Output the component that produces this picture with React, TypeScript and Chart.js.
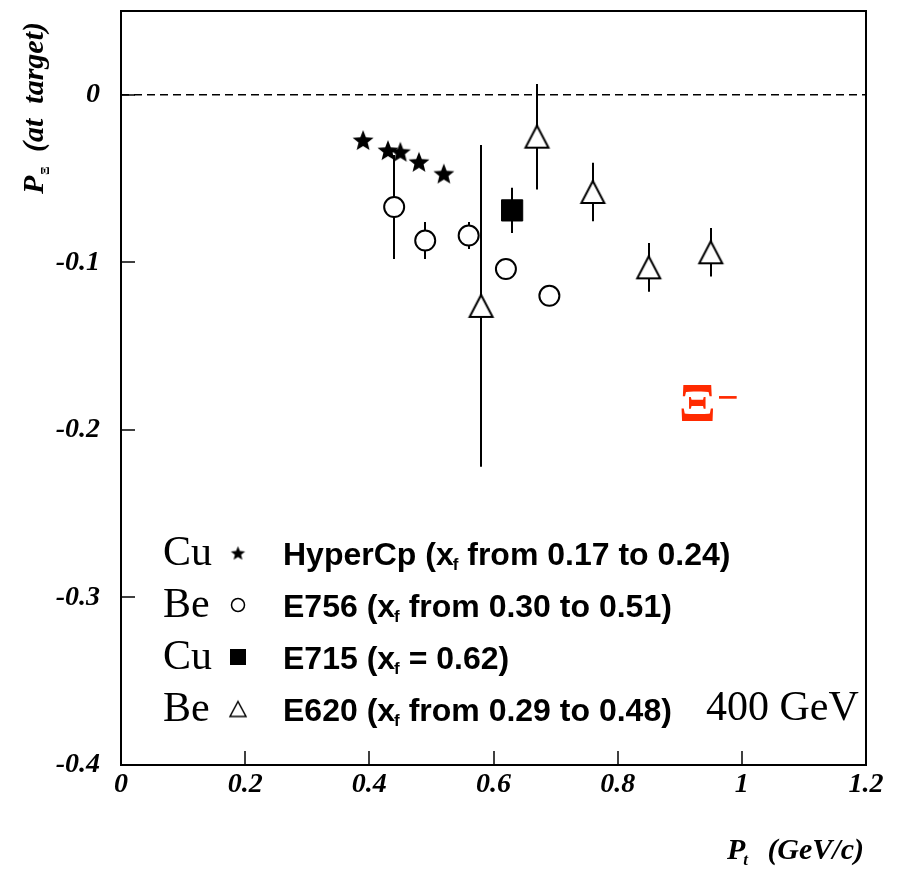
import React, { useEffect, useRef } from 'react';
import { Chart, registerables } from 'chart.js';

Chart.register(...registerables);

// ---- data ----
const starX = [0.39, 0.43, 0.45, 0.48, 0.52];
const starY = [-0.027, -0.033, -0.034, -0.040, -0.047];

const circleX = [0.44, 0.49, 0.56, 0.62, 0.69];
const circleY = [-0.067, -0.087, -0.084, -0.104, -0.120];
const circleErr = [0.031, 0.011, 0.008, 0.005, 0.005];

const squareX = [0.63];
const squareY = [-0.069];
const squareErr = [0.0135];

const triX = [0.58, 0.67, 0.76, 0.85, 0.95];
const triY = [-0.126, -0.025, -0.058, -0.103, -0.094];
const triErr = [0.096, 0.0315, 0.0175, 0.0145, 0.0145];

const xTicks = [0, 0.2, 0.4, 0.6, 0.8, 1, 1.2];
const xTickLabels = ['0', '0.2', '0.4', '0.6', '0.8', '1', '1.2'];
const yTicks = [-0.4, -0.3, -0.2, -0.1, 0];
const yTickLabels = ['-0.4', '-0.3', '-0.2', '-0.1', '0'];

const legendTargets = ['Cu', 'Be', 'Cu', 'Be'];
const legendNames = ['HyperCp', 'E756', 'E715', 'E620'];
const legendRanges = ['from 0.17 to 0.24', 'from 0.30 to 0.51', '= 0.62', 'from 0.29 to 0.48'];
const beamLabel = '400 GeV';
const particleLabel = 'Ξ';
const particleCharge = '−';
const xTitleMain = 'P';
const xTitleSub = 't';
const xTitleUnit = '(GeV/c)';
const yTitleMain = 'P';
const yTitleSub = 'Ξ';
const yTitleRest = '(at  target)';

// ---- marker images ----
function makeStar(R: number, r: number): HTMLCanvasElement {
  const size = Math.ceil(2 * R + 2);
  const c = document.createElement('canvas');
  c.width = size;
  c.height = size;
  const g = c.getContext('2d')!;
  const cx = size / 2;
  const cy = size / 2 + R * 0.1;
  g.beginPath();
  for (let i = 0; i < 10; i++) {
    const rad = i % 2 === 0 ? R : r;
    const a = -Math.PI / 2 + (i * Math.PI) / 5;
    const px = cx + rad * Math.cos(a);
    const py = cy + rad * Math.sin(a);
    if (i === 0) g.moveTo(px, py);
    else g.lineTo(px, py);
  }
  g.closePath();
  g.fillStyle = '#000';
  g.fill();
  return c;
}

function makeTriangle(w: number, h: number, lw: number): HTMLCanvasElement {
  const pad = Math.ceil(lw) + 1;
  const c = document.createElement('canvas');
  c.width = Math.ceil(w + 2 * pad);
  c.height = Math.ceil(h + 2 * pad);
  const g = c.getContext('2d')!;
  const cx = c.width / 2;
  const cy = c.height / 2;
  g.beginPath();
  g.moveTo(cx, cy - h / 2);
  g.lineTo(cx + w / 2, cy + h / 2);
  g.lineTo(cx - w / 2, cy + h / 2);
  g.closePath();
  g.fillStyle = '#fff';
  g.fill();
  g.lineWidth = lw;
  g.strokeStyle = '#000';
  g.lineJoin = 'miter';
  g.stroke();
  return c;
}

const SERIF = '"Liberation Serif", "Times New Roman", serif';
const SANS = '"Liberation Sans", Arial, sans-serif';

const decorPlugin = {
  id: 'decor',
  beforeDatasetsDraw(chart: any) {
    const { ctx, chartArea: a, scales } = chart;
    const x = scales.x;
    const y = scales.y;
    ctx.save();
    // dashed zero line
    const y0 = y.getPixelForValue(0);
    ctx.strokeStyle = '#000';
    ctx.lineWidth = 1.5;
    ctx.setLineDash([8, 5]);
    ctx.beginPath();
    ctx.moveTo(a.left, y0);
    ctx.lineTo(a.right, y0);
    ctx.stroke();
    ctx.setLineDash([]);
    // error bars
    ctx.lineWidth = 2;
    chart.data.datasets.forEach((ds: any) => {
      const errs = ds.errors as number[] | undefined;
      if (!errs) return;
      ds.data.forEach((p: any, i: number) => {
        const px = Math.round(x.getPixelForValue(p.x));
        ctx.beginPath();
        ctx.moveTo(px, y.getPixelForValue(p.y + errs[i]));
        ctx.lineTo(px, y.getPixelForValue(p.y - errs[i]));
        ctx.stroke();
      });
    });
    ctx.restore();
  },
  afterDraw(chart: any) {
    const { ctx, chartArea: a, scales } = chart;
    const x = scales.x;
    const y = scales.y;
    ctx.save();
    ctx.strokeStyle = '#000';
    ctx.fillStyle = '#000';
    // frame
    ctx.lineWidth = 2;
    ctx.strokeRect(a.left, a.top, a.right - a.left, a.bottom - a.top);
    // inward ticks
    const tl = 14;
    ctx.lineWidth = 1.5;
    xTicks.forEach((v) => {
      const px = Math.round(x.getPixelForValue(v));
      ctx.beginPath();
      ctx.moveTo(px, a.bottom);
      ctx.lineTo(px, a.bottom - tl);
      ctx.stroke();
    });
    yTicks.forEach((v) => {
      const py = Math.round(y.getPixelForValue(v));
      ctx.beginPath();
      ctx.moveTo(a.left, py);
      ctx.lineTo(a.left + tl, py);
      ctx.stroke();
    });

    // x title
    ctx.textBaseline = 'alphabetic';
    ctx.textAlign = 'left';
    ctx.font = `italic bold 30px ${SERIF}`;
    ctx.fillText(xTitleMain, 727, 859);
    const pw = ctx.measureText(xTitleMain).width;
    ctx.font = `italic bold 17px ${SERIF}`;
    ctx.fillText(xTitleSub, 727 + pw - 2, 865);
    ctx.font = `italic bold 30px ${SERIF}`;
    ctx.textAlign = 'right';
    ctx.fillText(xTitleUnit, 864, 859);

    // y title (rotated)
    ctx.save();
    ctx.translate(43, 194);
    ctx.rotate(-Math.PI / 2);
    ctx.textAlign = 'left';
    ctx.font = `italic bold 30px ${SERIF}`;
    ctx.fillText(yTitleMain, 0, 0);
    const yw = ctx.measureText(yTitleMain).width;
    ctx.font = `bold 12px ${SERIF}`;
    ctx.fillText(yTitleSub, yw + 1, 6);
    ctx.font = `italic bold 30px ${SERIF}`;
    ctx.fillText(yTitleRest, 42, 0);
    ctx.restore();

    // legend
    const baselines = [565, 617, 669, 721];
    const markX = 238;
    const smallStar = makeStar(7.5, 3.3);
    const smallTri = makeTriangle(16, 15, 1.5);
    legendTargets.forEach((t, i) => {
      const yb = baselines[i];
      ctx.textAlign = 'left';
      ctx.font = `42px ${SERIF}`;
      ctx.fillText(t, 163, yb);
      const my = yb - 12;
      if (i === 0) {
        ctx.drawImage(smallStar, markX - smallStar.width / 2, my - smallStar.height / 2);
      } else if (i === 1) {
        ctx.beginPath();
        ctx.arc(markX, my, 6.5, 0, Math.PI * 2);
        ctx.lineWidth = 1.5;
        ctx.stroke();
      } else if (i === 2) {
        ctx.fillRect(markX - 8, my - 8, 16, 16);
      } else {
        ctx.drawImage(smallTri, markX - smallTri.width / 2, my - smallTri.height / 2);
      }
      let tx = 283;
      ctx.font = `bold 32px ${SANS}`;
      const s1 = legendNames[i] + ' (x';
      ctx.fillText(s1, tx, yb);
      tx += ctx.measureText(s1).width;
      ctx.font = `bold 17px ${SANS}`;
      ctx.fillText('f', tx - 1, yb + 5);
      tx += ctx.measureText('f').width - 1;
      ctx.font = `bold 32px ${SANS}`;
      ctx.fillText(' ' + legendRanges[i] + ')', tx, yb);
    });
    ctx.font = `42px ${SERIF}`;
    ctx.fillText(beamLabel, 706, 720);

    // particle label
    ctx.fillStyle = '#ff2a00';
    ctx.font = `bold 54px ${SERIF}`;
    ctx.fillText(particleLabel, 679, 421);
    ctx.font = `bold 38px ${SERIF}`;
    ctx.fillText(particleCharge, 717, 410);
    ctx.restore();
  },
};

export default function App() {
  const ref = useRef<HTMLCanvasElement | null>(null);

  useEffect(() => {
    if (!ref.current) return;
    const starImg = makeStar(11, 4.8);
    const triImg = makeTriangle(23, 22, 2);
    const tickFont = { family: SERIF, style: 'italic' as const, weight: 'bold' as const, size: 28, lineHeight: 0.7 };

    const chart = new Chart(ref.current, {
      type: 'scatter',
      data: {
        datasets: [
          {
            label: 'E756',
            data: circleX.map((v, i) => ({ x: v, y: circleY[i] })),
            pointStyle: 'circle',
            pointRadius: 10,
            borderWidth: 2,
            borderColor: '#000',
            backgroundColor: '#fff',
            errors: circleErr,
          } as any,
          {
            label: 'E715',
            data: squareX.map((v, i) => ({ x: v, y: squareY[i] })),
            pointStyle: 'rect',
            pointRadius: 15,
            borderWidth: 1,
            borderColor: '#000',
            backgroundColor: '#000',
            errors: squareErr,
          } as any,
          {
            label: 'E620',
            data: triX.map((v, i) => ({ x: v, y: triY[i] })),
            pointStyle: triImg,
            pointRadius: 12,
            errors: triErr,
          } as any,
          {
            label: 'HyperCp',
            data: starX.map((v, i) => ({ x: v, y: starY[i] })),
            pointStyle: starImg,
            pointRadius: 11,
          } as any,
        ],
      },
      options: {
        animation: false,
        responsive: false,
        devicePixelRatio: 1,
        events: [],
        layout: { autoPadding: false, padding: { top: 11, right: 35, left: 0, bottom: 0 } },
        plugins: { legend: { display: false }, tooltip: { enabled: false } },
        scales: {
          x: {
            type: 'linear',
            min: 0,
            max: 1.2,
            grid: { display: false, drawTicks: false },
            border: { display: false },
            afterBuildTicks: (s: any) => {
              s.ticks = xTicks.map((v) => ({ value: v }));
            },
            afterFit: (s: any) => {
              s.height = 104;
              s.paddingLeft = 0;
              s.paddingRight = 0;
            },
            ticks: {
              font: tickFont,
              color: '#000',
              padding: 10,
              autoSkip: false,
              maxRotation: 0,
              callback: (v: any) => xTickLabels[xTicks.indexOf(v)],
            },
          },
          y: {
            type: 'linear',
            min: -0.4,
            max: 0.05,
            grid: { display: false, drawTicks: false },
            border: { display: false },
            afterBuildTicks: (s: any) => {
              s.ticks = yTicks.map((v) => ({ value: v }));
            },
            afterFit: (s: any) => {
              s.width = 121;
              s.paddingTop = 0;
              s.paddingBottom = 0;
            },
            ticks: {
              font: tickFont,
              color: '#000',
              padding: 21,
              autoSkip: false,
              callback: (v: any) => yTickLabels[yTicks.indexOf(v)],
            },
          },
        },
      },
      plugins: [decorPlugin],
    });
    return () => chart.destroy();
  }, []);

  return (
    <div style={{ position: 'absolute', left: 0, top: 0, width: 901, height: 869, background: '#fff' }}>
      <canvas ref={ref} width={901} height={869} style={{ display: 'block', width: 901, height: 869 }} />
    </div>
  );
}
